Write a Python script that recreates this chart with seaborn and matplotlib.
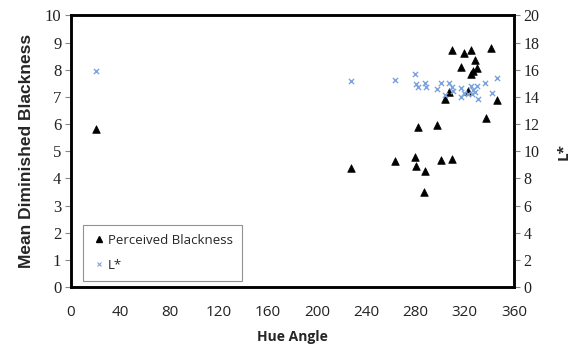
import matplotlib
matplotlib.use("Agg")
import matplotlib.pyplot as plt
import seaborn as sns
import pandas as pd
from matplotlib.lines import Line2D

# Perceived Blackness (left axis)
hue_pb = [20, 227.3, 263.3, 279.5, 280.3, 287.4, 286.6, 300.4, 309.9, 282.3, 297.4,
          337.0, 346.4, 304.2, 307.2, 322.3, 317.2, 325.3, 326.9, 330.2, 328.3,
          309.9, 319.1, 325.3, 341.6]
blackness = [5.82, 4.38, 4.64, 4.79, 4.47, 4.29, 3.50, 4.67, 4.71, 5.88, 5.96,
             6.21, 6.90, 6.91, 7.17, 7.23, 8.09, 7.86, 7.96, 8.08, 8.36,
             8.73, 8.63, 8.72, 8.80]

# L* (right axis)
hue_l = [20, 227.3, 263.5, 279.5, 280.3, 282.3, 287.4, 288.2, 297.4, 300.7, 303.9,
         307.2, 309.9, 310.2, 317.2, 316.9, 319.1, 322.3, 325.3, 326.9, 325.6,
         328.3, 329.7, 330.5, 336.7, 341.9, 346.2]
lstar = [15.9, 15.15, 15.25, 15.67, 14.95, 14.75, 15.05, 14.75, 14.56, 15.0, 14.14,
         15.05, 14.7, 14.46, 14.64, 14.02, 14.27, 14.2, 14.81, 14.51, 14.2,
         14.39, 14.83, 13.87, 15.0, 14.27, 15.38]

x_ticks = [0, 40, 80, 120, 160, 200, 240, 280, 320, 360]
y_ticks = list(range(0, 11))
y2_ticks = list(range(0, 21, 2))

df_pb = pd.DataFrame({"hue": hue_pb, "val": blackness})
df_l = pd.DataFrame({"hue": hue_l, "val": lstar})

sns.set_style("white")
fig = plt.figure(figsize=(5.7, 3.48), dpi=100)
ax = fig.add_axes([0.1246, 0.1753, 0.7772, 0.7802])
ax2 = ax.twinx()

sns.scatterplot(data=df_pb, x="hue", y="val", ax=ax, marker="^", color="black",
                s=30, edgecolor="black", linewidth=0.5, zorder=3)
sns.scatterplot(data=df_l, x="hue", y="val", ax=ax2, marker="x", color="#7ba3dd",
                s=14, linewidth=1.0, zorder=2)

ax.set_xlim(0, 360)
ax.set_ylim(0, 10)
ax2.set_ylim(0, 20)
ax.set_xticks(x_ticks)
ax.set_yticks(y_ticks)
ax2.set_yticks(y2_ticks)

serif = "Liberation Serif"
ax.set_xticklabels([str(t) for t in x_ticks], fontsize=11, family="Open Sans", color="#222222")
ax.set_yticklabels([str(t) for t in y_ticks], fontsize=12, family=serif, color="#222222")
ax2.set_yticklabels([str(t) for t in y2_ticks], fontsize=11.5, family=serif, color="#222222")

for a in (ax, ax2):
    a.tick_params(axis="both", direction="out", length=4, width=0.8, color="#888888", pad=3)
ax.tick_params(axis="x", pad=9)

ax.set_xlabel("Hue Angle", fontsize=10, fontweight="bold", family="Open Sans", labelpad=7)
ax.set_ylabel("Mean Diminished Blackness", fontsize=12.5, fontweight="bold",
              family="Liberation Sans", labelpad=8)
ax2.set_ylabel("L*", fontsize=11, fontweight="bold", family="Open Sans",
               rotation=90, labelpad=12)

for a in (ax, ax2):
    for sp in a.spines.values():
        sp.set_color("black")
        sp.set_linewidth(1.8)
        sp.set_visible(True)

handles = [Line2D([], [], marker="^", color="black", linestyle="none", markersize=4),
           Line2D([], [], marker="x", color="#7ba3dd", linestyle="none", markersize=3,
                  markeredgewidth=0.8)]
leg = ax.legend(handles, ["Perceived Blackness", "L*"], loc="lower left",
                bbox_to_anchor=(0.027, 0.022), borderaxespad=0, frameon=True, fancybox=False,
                prop={"family": "Open Sans", "size": 9.5}, handletextpad=0.2,
                handlelength=1.0, labelspacing=0.9, borderpad=0.7)
leg.get_frame().set_edgecolor("#777777")
leg.get_frame().set_linewidth(0.8)
leg.set_zorder(5)

fig.savefig("out.png", dpi=100)
